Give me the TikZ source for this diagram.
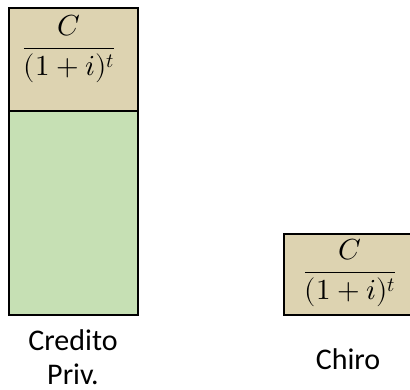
\documentclass[tikz,border=0pt]{standalone}
\usepackage{fontspec}
\usepackage{unicode-math}
\setmainfont{Carlito}
\setmathfont{Latin Modern Math}
\definecolor{tanfill}{HTML}{DDD3B1}
\definecolor{greenfill}{HTML}{C6E0B4}
\begin{document}
\begin{tikzpicture}[x=1pt,y=-1pt,
  block/.style={draw=black,line width=2.2pt},
  caption/.style={font=\fontsize{30}{34}\selectfont,align=center,inner sep=0pt},
  formula/.style={font=\fontsize{29}{34}\selectfont,inner sep=0pt}]
\useasboundingbox (0,0) rectangle (410,389);
\clip (0,0) rectangle (410,389);
% tall column: interest part on top, principal below
\path[fill=tanfill] (9,8) rectangle (138,111);
\path[fill=greenfill] (9,111) rectangle (138,315);
\draw[block] (9,8) rectangle (138,315);
\draw[block] (9,111) -- (138,111);
\node[formula] (f1) at (69,49) {$\displaystyle\frac{C}{(1+i)^t}$};
% small box on the right, running off the edge
\draw[block,fill=tanfill] (284,234) rectangle (420,315);
\node[formula] (f2) at (350,273) {$\displaystyle\frac{C}{(1+i)^t}$};
% captions
\node[caption] (l1) at (73,357) {Credito\\Priv.};
\node[caption] (l2) at (348,359) {Chiro};
\end{tikzpicture}
\end{document}
